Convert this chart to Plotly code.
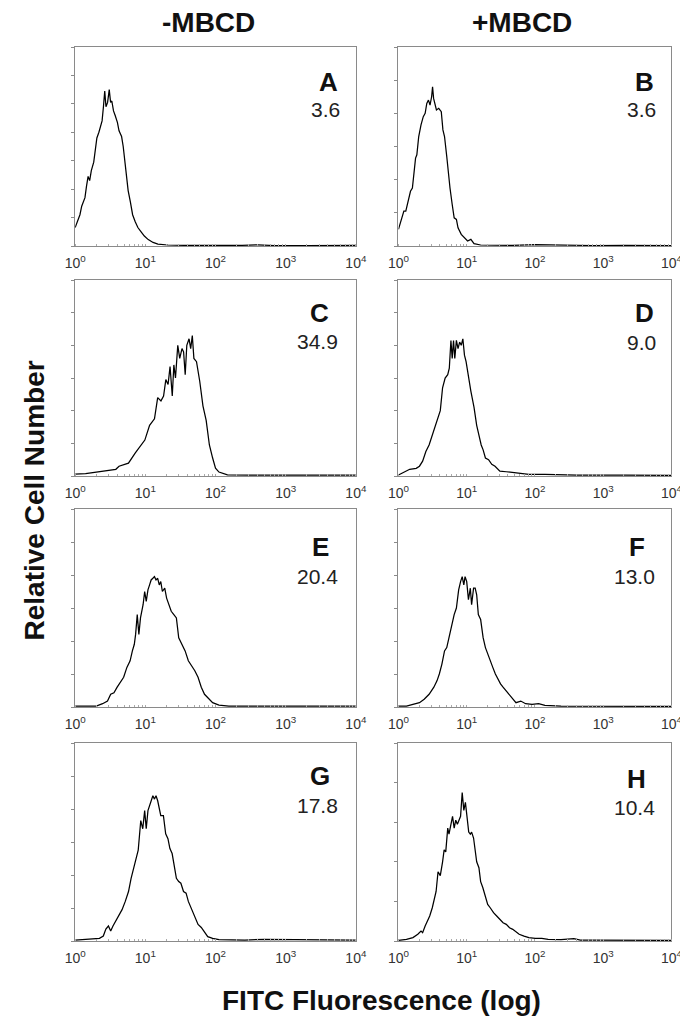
import plotly.graph_objects as go

# ---------------- data (FITC fluorescence, relative cell counts) ----------------
x_A = [1.0, 1.09, 1.17, 1.24, 1.31, 1.38, 1.45, 1.53, 1.61, 1.70, 1.84, 1.96, 2.04, 2.18, 2.30, 2.42, 2.53,
       2.64, 2.75, 2.90, 3.06, 3.20, 3.33, 3.52, 3.71, 4.00, 4.22, 4.59, 4.84, 5.11, 5.33, 5.69, 6.12, 6.59,
       7.18, 7.83, 8.71, 9.68, 11.0, 12.9, 15.1, 20.9, 35.5, 83, 240, 400, 700, 2000, 10000]
y_A = [13, 18, 22, 28, 32, 34, 42, 49, 46, 53, 59, 70, 76, 80, 85, 88, 98, 109, 98, 101, 110, 101, 102, 95,
       92, 87, 81, 77, 70, 59, 50, 39, 31, 22, 17, 13, 10, 7, 4.5, 2.5, 1.4, 0.7, 0.5, 0.4, 0.5, 0.8, 0.3,
       0.3, 0.4]

x_B = [1.0, 1.11, 1.20, 1.28, 1.39, 1.50, 1.60, 1.67, 1.78, 1.86, 1.98, 2.14, 2.31, 2.46, 2.60, 2.75, 2.90,
       3.06, 3.16, 3.27, 3.41, 3.60, 3.89, 4.24, 4.48, 4.73, 5.10, 5.38, 5.69, 6.13, 6.55, 7.06, 7.46, 8.32,
       9.27, 10.3, 11.5, 12.8, 16.0, 27.5, 47, 100, 240, 710, 2130, 10000]
y_B = [10, 17, 21, 21, 27, 33, 35, 41, 53, 55, 66, 73, 78, 80, 86, 88, 85, 90, 96, 89, 86, 82, 83, 81, 70,
       66, 54, 43, 35, 25, 17, 16, 11, 7, 5, 3, 4, 1.4, 0.6, 0.5, 0.4, 0.8, 0.4, 0.3, 0.4, 0.3]

x_C = [1.0, 1.41, 2.0, 2.82, 3.80, 4.22, 5.75, 7.16, 8.85, 9.84, 11.5, 13.5, 15.0, 16.7, 18.2, 19.6, 21.1,
       22.5, 24.2, 25.5, 26.9, 29.0, 30.9, 33.3, 35.1, 37.0, 39.0, 42.0, 44.3, 46.7, 49.2, 53.6, 59.6, 66.2,
       73.6, 81.8, 91.0, 100, 112, 148, 316, 1000, 3160, 10000]
y_C = [1.2, 1.4, 2.4, 3.4, 4.1, 6.0, 7.9, 14, 19, 22, 31, 35, 48, 46, 49, 59, 56, 67, 49, 68, 60, 80, 72, 78,
       76, 62, 80, 84, 78, 86, 72, 70, 58, 43, 34, 19, 11, 4.8, 2.4, 0.7, 0.5, 0.5, 0.4, 0.5]

x_D = [1.0, 1.18, 1.46, 1.82, 2.03, 2.26, 2.52, 2.81, 3.13, 3.49, 3.80, 4.10, 4.43, 4.83, 5.27, 5.56, 5.87,
       6.13, 6.41, 6.69, 7.06, 7.46, 7.88, 8.32, 8.78, 9.27, 9.79, 10.6, 11.5, 12.8, 14.0, 15.1, 16.3, 17.4,
       18.8, 20.9, 23.3, 26.0, 30.6, 38.0, 52.7, 65.5, 81.3, 140, 415, 2110, 10000]
y_D = [0.6, 2.0, 4.1, 4.7, 6.0, 9.1, 15, 19, 25, 31, 37, 40, 54, 60, 62, 66, 83, 72, 83, 72, 83, 78, 82, 80,
       84, 74, 70, 60, 52, 42, 31, 25, 19, 16, 11, 10, 7.2, 6.0, 3.0, 2.6, 2.0, 1.4, 1.0, 1.0, 0.6, 0.6, 0.4]

x_E = [1.0, 1.30, 2.0, 2.46, 2.89, 3.21, 3.57, 3.97, 4.42, 4.91, 5.46, 6.07, 6.54, 6.97, 7.27, 7.67, 8.09,
       8.53, 9.29, 9.79, 10.3, 10.9, 11.5, 12.1, 12.8, 13.5, 14.2, 15.0, 15.8, 16.6, 17.5, 18.9, 20.1, 21.7,
       23.4, 25.5, 27.7, 29.9, 33.2, 36.9, 41.0, 45.6, 50.7, 56.4, 62.7, 69.7, 77.5, 91.0, 112, 155, 760, 10000]
y_E = [0.6, 0.6, 0.6, 2.0, 3.6, 7.7, 8.6, 12, 15, 18, 24, 28, 34, 38, 44, 56, 44, 54, 62, 70, 64, 71, 74, 77,
       78, 79, 77, 78, 74, 76, 70, 72, 66, 62, 58, 56, 54, 42, 38, 34, 28, 25, 22, 18, 12, 7.7, 5.6, 2.6, 1.2,
       0.6, 0.6, 0.6]

x_F = [1.0, 1.31, 1.63, 2.03, 2.38, 2.81, 3.30, 3.68, 3.97, 4.33, 4.73, 5.10, 5.50, 6.00, 6.55, 7.06, 7.62,
       8.13, 8.59, 9.07, 9.46, 10.0, 10.6, 11.3, 11.8, 12.6, 13.3, 14.0, 14.8, 16.0, 17.4, 18.8, 20.3, 22.1,
       24.1, 26.3, 29.0, 31.3, 34.1, 38.0, 42.4, 47.3, 52.7, 62.0, 73.0, 90.7, 113, 140, 241, 10000]
y_F = [0.6, 0.6, 1.6, 2.6, 4.7, 7.7, 12, 16, 20, 26, 34, 36, 42, 50, 56, 60, 71, 76, 79, 74, 79, 76, 65, 72,
       62, 72, 72, 68, 56, 53, 42, 36, 32, 28, 24, 20, 16, 14, 12, 9.7, 7.7, 5.6, 2.6, 3.6, 2.0, 1.6, 2.0, 1.0,
       0.6, 0.4]

x_G = [1.0, 1.61, 2.22, 2.52, 2.74, 2.98, 3.21, 3.46, 3.77, 4.19, 4.66, 5.18, 5.76, 6.27, 6.75, 7.27, 7.92,
       8.61, 9.19, 9.79, 10.3, 10.9, 11.5, 12.1, 12.8, 13.5, 14.2, 15.0, 15.8, 16.6, 18.1, 19.5, 21.0, 22.4,
       24.1, 25.5, 27.7, 29.9, 32.1, 35.0, 38.1, 41.0, 45.6, 50.7, 56.4, 62.7, 69.7, 77.5, 91.0, 112, 262, 497,
       10000]
y_G = [0.6, 1.0, 1.6, 3.0, 7.2, 9.1, 6.0, 9.1, 12, 16, 19, 24, 30, 38, 44, 49, 55, 73, 68, 79, 68, 79, 82, 85,
       88, 86, 88, 85, 80, 76, 76, 65, 62, 56, 53, 47, 38, 36, 35, 30, 29, 24, 19, 14, 10, 8.2, 5.0, 2.6, 1.6,
       0.8, 0.6, 1.0, 0.6]

x_H = [1.0, 1.31, 1.63, 1.92, 2.14, 2.26, 2.46, 2.66, 2.87, 3.13, 3.38, 3.56, 3.80, 4.10, 4.43, 4.67, 4.93,
       5.27, 5.50, 5.87, 6.20, 6.55, 6.91, 7.30, 7.70, 8.13, 8.59, 9.07, 9.57, 10.1, 10.7, 11.3, 11.8, 12.6,
       13.3, 14.0, 15.1, 16.0, 17.2, 18.6, 20.3, 22.1, 24.7, 27.5, 30.6, 34.1, 38.0, 42.4, 47.3, 52.7, 58.7,
       69.2, 81.3, 101, 126, 156, 241, 372, 462, 714, 10000]
y_H = [0.3, 0.8, 1.7, 3.4, 5.0, 4.2, 7.6, 10, 12.6, 16.8, 22.7, 25, 35, 33, 40, 46, 45, 57, 54, 60, 63, 57, 61,
       59, 61, 63, 75, 66, 70, 64, 55, 54, 55, 52, 47, 40, 37, 30, 27, 23.5, 18.5, 16.8, 14.3, 12.6, 10.9, 9.2,
       8.4, 6.7, 5.9, 4.7, 3.4, 2.5, 1.7, 1.3, 1.3, 0.8, 0.7, 1.2, 0.5, 0.5, 0.3]

panel_letters = ["A", "B", "C", "D", "E", "F", "G", "H"]
panel_values = ["3.6", "3.6", "34.9", "9.0", "20.4", "13.0", "17.8", "10.4"]
panel_ymax = [140, 120, 120, 120, 120, 120, 120, 100]
column_titles = ["-MBCD", "+MBCD"]
tick_vals = [1, 10, 100, 1000, 10000]
tick_text = ["10<sup>0</sup>", "10<sup>1</sup>", "10<sup>2</sup>", "10<sup>3</sup>", "10<sup>4</sup>"]
series_x = [x_A, x_B, x_C, x_D, x_E, x_F, x_G, x_H]
series_y = [y_A, y_B, y_C, y_D, y_E, y_F, y_G, y_H]

# ---------------- layout geometry (pixels) ----------------
W, H = 688, 1016
COLS = [(58, 348), (392, 674)]
ROWS = [(39, 238), (272, 468), (501, 699), (735, 933)]
LETTER_POS = [(320, 74), (646, 74), (310, 305), (646, 305), (311, 539), (638, 539), (311, 768), (638, 771)]
VALUE_POS = [(334, 101), (660, 101), (332, 333), (660, 334), (332, 568), (659, 568), (332, 797), (659, 799)]

def px(x):
    return x / W

def py(y):
    return 1 - y / H

FONT = "Liberation Sans, Arial, sans-serif"
FRAME = "#8a8a8a"

fig = go.Figure()
layout = dict(
    width=W, height=H, margin=dict(l=0, r=0, t=0, b=0),
    paper_bgcolor="white", plot_bgcolor="white", showlegend=False,
    font=dict(family=FONT, color="#222"),
)
annotations = []

for i in range(8):
    r, c = divmod(i, 2)
    n = i + 1
    xa = "x" if n == 1 else f"x{n}"
    ya = "y" if n == 1 else f"y{n}"
    fig.add_trace(go.Scatter(x=series_x[i], y=series_y[i], mode="lines",
                             line=dict(color="black", width=1.25),
                             xaxis=xa, yaxis=ya, hoverinfo="skip"))
    x0, x1 = COLS[c]
    y0, y1 = ROWS[r]
    layout[f"xaxis{'' if n == 1 else n}"] = dict(
        type="log", range=[0, 4], domain=[px(x0), px(x1)], anchor=ya,
        showline=True, linecolor=FRAME, linewidth=1, mirror=True,
        showgrid=False, zeroline=False,
        tickvals=tick_vals, ticktext=tick_text, ticks="",
        tickfont=dict(size=14, color="#333", family=FONT),
        ticklabelstandoff=4,
        minor=dict(ticks="inside", ticklen=2, tickcolor="#aaaaaa", dtick="D1", showgrid=False),
    )
    layout[f"yaxis{'' if n == 1 else n}"] = dict(
        range=[0, panel_ymax[i]], dtick=20, domain=[py(y1), py(y0)], anchor=xa,
        showline=True, linecolor=FRAME, linewidth=1, mirror=True,
        showgrid=False, zeroline=False, showticklabels=False,
        ticks="outside", ticklen=3, tickcolor=FRAME, tickwidth=1,
    )
    lx, ly = LETTER_POS[i]
    annotations.append(dict(text=f"<b>{panel_letters[i]}</b>", x=px(lx), y=py(ly),
                            xref="paper", yref="paper", xanchor="center", yanchor="middle",
                            showarrow=False, font=dict(size=26, color="#111", family=FONT)))
    vx, vy = VALUE_POS[i]
    annotations.append(dict(text=panel_values[i], x=px(vx), y=py(vy),
                            xref="paper", yref="paper", xanchor="right", yanchor="middle",
                            showarrow=False, font=dict(size=21, color="#222", family=FONT)))

for title, cx in zip(column_titles, [196, 520]):
    annotations.append(dict(text=f"<b>{title}</b>", x=px(cx), y=py(15), xref="paper", yref="paper",
                            xanchor="center", yanchor="middle", showarrow=False,
                            font=dict(size=28, color="#111", family=FONT)))

annotations.append(dict(text="<b>Relative Cell Number</b>", x=px(16), y=py(492), xref="paper", yref="paper",
                        xanchor="center", yanchor="middle", textangle=-90, showarrow=False,
                        font=dict(size=28, color="#111", family=FONT)))
annotations.append(dict(text="<b>FITC Fluorescence (log)</b>", x=px(374), y=py(992), xref="paper",
                        yref="paper", xanchor="center", yanchor="middle", showarrow=False,
                        font=dict(size=28, color="#111", family=FONT)))

layout["annotations"] = annotations
fig.update_layout(**layout)
fig.write_html("out.html")
